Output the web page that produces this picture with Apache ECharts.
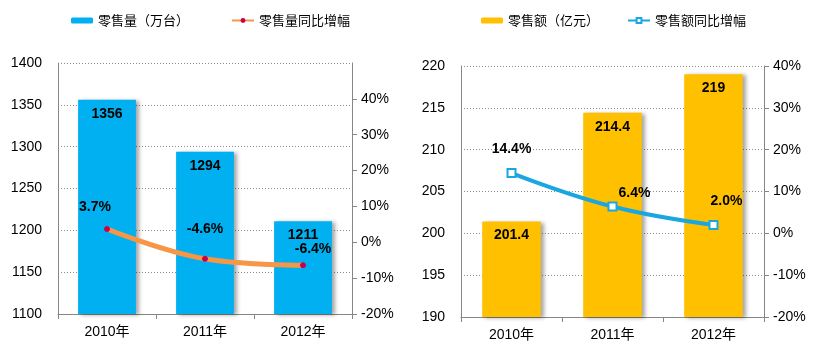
<!DOCTYPE html>
<html><head><meta charset="utf-8">
<script src="https://cdn.jsdelivr.net/npm/echarts@6/dist/echarts.min.js"></script>
<style>html,body{margin:0;padding:0;background:#fff}#c{width:817px;height:358px}</style>
</head><body><div id="c"></div>
<script>
const categories = ['2010年', '2011年', '2012年'];
const salesVolume = [1356, 1294, 1211];
const volumeGrowth = [3.7, -4.6, -6.4];
const salesValue = [201.4, 214.4, 219];
const valueGrowth = [14.4, 6.4, 2.0];
const volumeTicks = [1100, 1400, 50];
const valueTicks = [190, 220, 5];
const pctTicks = [-20, -10, 0, 10, 20, 30, 40];

const volOffsets = [[-12, -7], [0, -15], [10, -1]];
const valOffsets = [[0, -7], [22, 4], [13, -7]];

const FONT = '"Liberation Sans", Arial, "Noto Sans CJK SC", sans-serif';
const axisGray = '#868686';

function pctAxis(grid, max) {
  return {
    type: 'value', gridIndex: grid, position: 'right', min: -20, max: max, interval: 10,
    axisLine: { show: true, onZero: false, lineStyle: { color: axisGray } },
    axisTick: { show: true, customValues: pctTicks, length: 5, lineStyle: { color: axisGray } },
    axisLabel: { customValues: pctTicks, formatter: v => v + '%', color: '#000', fontSize: 14, fontFamily: FONT, margin: 9 },
    splitLine: { show: false }
  };
}
function valAxis(grid, t) {
  return {
    type: 'value', gridIndex: grid, position: 'left', min: t[0], max: t[1], interval: t[2],
    axisLine: { show: true, onZero: false, lineStyle: { color: axisGray } },
    axisTick: { show: false },
    axisLabel: { color: '#000', fontSize: 14, fontFamily: FONT, margin: 16, formatter: v => String(v) },
    splitLine: { show: true, lineStyle: { color: '#8c8c8c', type: [1, 2], width: 1 } }
  };
}
function catAxis(grid) {
  return {
    type: 'category', gridIndex: grid, data: categories,
    axisLine: { show: true, onZero: false, lineStyle: { color: axisGray } },
    axisTick: { show: true, alignWithLabel: false, length: 5, lineStyle: { color: axisGray } },
    axisLabel: { color: '#000', fontSize: 14, fontFamily: FONT, margin: 11 }
  };
}
const barLabel = { show: true, position: 'insideTop', distance: 7, color: '#000', fontWeight: 'bold', fontSize: 14, fontFamily: FONT };
const barShadow = { shadowColor: 'rgba(0,0,0,0.35)', shadowBlur: 4, shadowOffsetX: 3, shadowOffsetY: 1 };

function lineData(vals, offs) {
  return vals.map((v, i) => ({ value: v, label: { offset: offs[i] } }));
}
const lineLabel = { show: true, position: 'top', formatter: p => p.value.toFixed(1) + '%', color: '#000', fontWeight: 'bold', fontSize: 14, fontFamily: FONT };

const chart = echarts.init(document.getElementById('c'));
chart.setOption({
  animation: false,
  backgroundColor: '#fff',
  textStyle: { fontFamily: FONT },
  legend: [
    { data: ['零售量（万台）', '零售量同比增幅'], left: 66, top: 9, itemWidth: 22, itemHeight: 6, itemGap: 42,
      textStyle: { fontSize: 13, color: '#000', fontFamily: '"Noto Sans CJK SC", sans-serif' } },
    { data: ['零售额（亿元）', '零售额同比增幅'], left: 476, top: 9, itemWidth: 22, itemHeight: 6, itemGap: 28,
      textStyle: { fontSize: 13, color: '#000', fontFamily: '"Noto Sans CJK SC", sans-serif' } }
  ],
  grid: [
    { left: 58, right: 465, top: 63, bottom: 44 },
    { left: 461, right: 53, top: 66, bottom: 41 }
  ],
  xAxis: [catAxis(0), catAxis(1)],
  yAxis: [valAxis(0, volumeTicks), pctAxis(0, 50), valAxis(1, valueTicks), pctAxis(1, 40)],
  series: [
    { name: '零售量（万台）', type: 'bar', xAxisIndex: 0, yAxisIndex: 0, data: salesVolume, barWidth: '59%',
      itemStyle: Object.assign({ color: '#00B0F0' }, barShadow), label: barLabel },
    { name: '零售量同比增幅', type: 'line', xAxisIndex: 0, yAxisIndex: 1, data: lineData(volumeGrowth, volOffsets), smooth: 0.4,
      lineStyle: { color: '#F79646', width: 5 }, itemStyle: { color: '#C8004E', borderColor: '#C8004E' },
      symbol: 'circle', symbolSize: 5, label: lineLabel, z: 5 },
    { name: '零售额（亿元）', type: 'bar', xAxisIndex: 1, yAxisIndex: 2, data: salesValue, barWidth: '58%',
      itemStyle: Object.assign({ color: '#FFC000' }, barShadow), label: barLabel },
    { name: '零售额同比增幅', type: 'line', xAxisIndex: 1, yAxisIndex: 3, data: lineData(valueGrowth, valOffsets), smooth: 0.4,
      lineStyle: { color: '#1AA7E0', width: 4 }, itemStyle: { color: '#fff', borderColor: '#1AA7E0', borderWidth: 2 },
      symbol: 'rect', symbolSize: 8, showAllSymbol: true, label: lineLabel, z: 5 }
  ]
});
</script></body></html>
